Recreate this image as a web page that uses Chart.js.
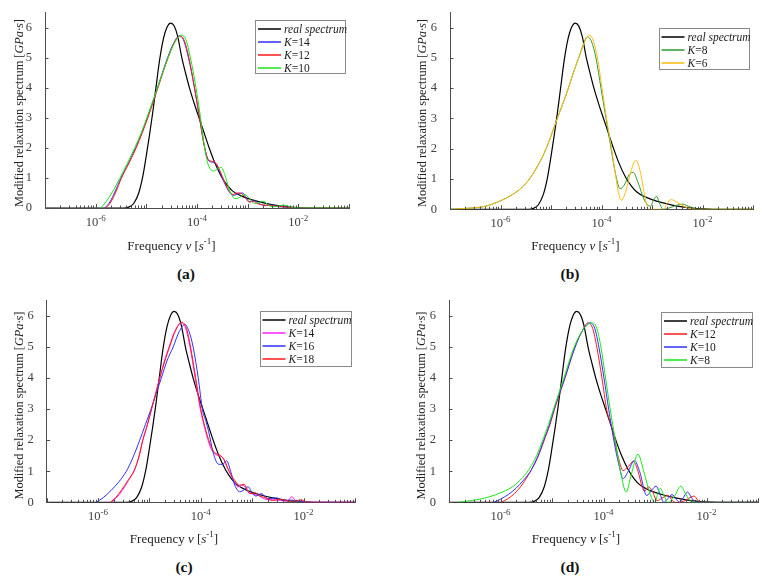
<!DOCTYPE html>
<html>
<head>
<meta charset="utf-8">
<script src="https://cdn.jsdelivr.net/npm/chart.js@4.4.1/dist/chart.umd.min.js"></script>
<style>
  body { margin: 0; background: #fff; }
  #wrap { position: relative; width: 762px; height: 579px; }
  .panel { position: absolute; width: 381px; height: 262px; }
  .cap { position: absolute; font: bold 15.5px "Liberation Serif", serif; color: #111; transform: translate(-50%, -50%); }
</style>
</head>
<body>
<div id="wrap">
  <div class="panel" style="left:0;top:0"><canvas id="chartA"></canvas></div>
  <div class="panel" style="left:381px;top:0"><canvas id="chartB"></canvas></div>
  <div class="panel" style="left:0;top:288px"><canvas id="chartC"></canvas></div>
  <div class="panel" style="left:381px;top:288px"><canvas id="chartD"></canvas></div>
  <div class="cap" style="left:186px;top:274px">(a)</div>
  <div class="cap" style="left:570px;top:274px">(b)</div>
  <div class="cap" style="left:184px;top:567px">(c)</div>
  <div class="cap" style="left:570px;top:567px">(d)</div>
</div>
<script>
const FONT = '"Liberation Serif", "Times New Roman", serif';
const AXIS = '#4d4d4d';

// each point is [log10(frequency), spectrum value in GPa·s]
const realSpectrum = [[-7,0],[-5.45,0],[-5.35,0.03],[-5.25,0.15],[-5.15,0.5],[-5.07,1.05],[-5.0,1.75],[-4.94,2.4],[-4.88,3.1],[-4.81,4.0],[-4.74,4.9],[-4.66,5.65],[-4.59,6.02],[-4.52,6.15],[-4.45,6.05],[-4.38,5.7],[-4.30,5.0],[-4.22,4.45],[-4.15,4.0],[-4.05,3.45],[-3.96,3.0],[-3.86,2.5],[-3.77,2.05],[-3.66,1.55],[-3.52,1.05],[-3.40,0.75],[-3.30,0.57],[-3.15,0.42],[-3.0,0.32],[-2.80,0.22],[-2.60,0.14],[-2.40,0.08],[-2.20,0.04],[-2.0,0.015],[-1.8,0],[-1,0]];

// (a)
const aK14 = [[-5.82,0],[-5.72,0.2],[-5.63,0.5],[-5.50,1.0],[-5.35,1.5],[-5.21,2.0],[-5.09,2.5],[-4.98,3.0],[-4.78,4.0],[-4.58,5.0],[-4.47,5.45],[-4.35,5.72],[-4.27,5.6],[-4.17,5.0],[-4.05,4.0],[-3.95,3.0],[-3.86,2.1],[-3.78,1.6],[-3.70,1.52],[-3.62,1.45],[-3.55,1.2],[-3.45,0.8],[-3.36,0.53],[-3.28,0.42],[-3.18,0.48],[-3.10,0.5],[-3.02,0.32],[-2.96,0.2],[-2.87,0.24],[-2.78,0.15],[-2.65,0.08],[-2.53,0.1],[-2.42,0.05],[-2.25,0.03],[-2.1,0.02],[-1.97,0],[-1,0]];
const aK12 = [[-5.80,0],[-5.70,0.2],[-5.61,0.5],[-5.49,1.0],[-5.34,1.5],[-5.20,2.0],[-5.08,2.5],[-4.97,3.0],[-4.77,4.0],[-4.57,5.0],[-4.46,5.45],[-4.34,5.72],[-4.26,5.6],[-4.16,5.0],[-4.05,4.0],[-3.95,3.0],[-3.86,2.1],[-3.78,1.62],[-3.70,1.55],[-3.62,1.48],[-3.55,1.25],[-3.45,0.85],[-3.36,0.55],[-3.29,0.45],[-3.20,0.5],[-3.12,0.48],[-3.04,0.32],[-2.97,0.2],[-2.89,0.22],[-2.80,0.14],[-2.68,0.1],[-2.55,0.08],[-2.42,0.06],[-2.28,0.04],[-2.12,0.02],[-1.98,0],[-1,0]];
const aK10 = [[-5.90,0],[-5.80,0.2],[-5.68,0.5],[-5.52,1.0],[-5.37,1.5],[-5.23,2.0],[-5.10,2.5],[-4.99,3.0],[-4.78,4.0],[-4.57,5.0],[-4.44,5.5],[-4.30,5.75],[-4.22,5.6],[-4.13,5.0],[-4.02,4.0],[-3.93,3.0],[-3.85,2.0],[-3.79,1.5],[-3.73,1.28],[-3.67,1.23],[-3.59,1.3],[-3.52,1.35],[-3.45,1.1],[-3.38,0.7],[-3.32,0.45],[-3.25,0.31],[-3.16,0.35],[-3.06,0.45],[-2.98,0.35],[-2.90,0.18],[-2.83,0.15],[-2.75,0.2],[-2.68,0.22],[-2.60,0.1],[-2.50,0.04],[-2.40,0.06],[-2.30,0.1],[-2.20,0.06],[-2.08,0.01],[-2.0,0],[-1,0]];

// (b)
const bK8 = [[-6.96,0],[-6.6,0.04],[-6.3,0.1],[-6.0,0.28],[-5.8,0.45],[-5.64,0.63],[-5.45,0.95],[-5.30,1.33],[-5.15,1.8],[-5.04,2.24],[-4.94,2.7],[-4.84,3.16],[-4.74,3.6],[-4.64,4.08],[-4.54,4.6],[-4.44,5.05],[-4.36,5.45],[-4.28,5.7],[-4.20,5.55],[-4.11,5.0],[-4.01,4.0],[-3.91,3.0],[-3.81,2.0],[-3.72,1.15],[-3.63,0.68],[-3.55,0.8],[-3.45,1.15],[-3.37,1.22],[-3.28,0.9],[-3.15,0.3],[-3.03,0.1],[-2.97,0.3],[-2.91,0.43],[-2.85,0.2],[-2.78,0],[-2.65,0.05],[-2.50,0.14],[-2.40,0.17],[-2.28,0.1],[-2.15,0.02],[-2.1,0],[-1,0]];
const bK6 = [[-6.96,0],[-6.6,0.04],[-6.3,0.1],[-6.0,0.28],[-5.8,0.45],[-5.64,0.63],[-5.45,0.95],[-5.30,1.33],[-5.15,1.8],[-5.04,2.24],[-4.94,2.7],[-4.84,3.16],[-4.74,3.6],[-4.64,4.08],[-4.54,4.6],[-4.44,5.05],[-4.34,5.5],[-4.25,5.75],[-4.17,5.6],[-4.08,5.0],[-3.99,4.0],[-3.90,3.0],[-3.80,2.0],[-3.71,1.0],[-3.65,0.45],[-3.60,0.3],[-3.52,0.6],[-3.42,1.25],[-3.32,1.62],[-3.24,1.3],[-3.15,0.5],[-3.07,0],[-2.77,0],[-2.70,0.2],[-2.62,0.32],[-2.52,0.25],[-2.35,0.08],[-2.2,0.01],[-2.17,0],[-1,0]];

// (c)
const cK14 = [[-5.74,0],[-5.64,0.15],[-5.53,0.38],[-5.41,0.7],[-5.29,1.05],[-5.20,1.5],[-5.13,2.0],[-5.04,2.5],[-4.96,3.0],[-4.88,3.5],[-4.80,4.0],[-4.71,4.55],[-4.62,5.0],[-4.51,5.5],[-4.38,5.78],[-4.30,5.62],[-4.21,5.0],[-4.11,4.0],[-4.01,3.0],[-3.91,2.3],[-3.82,1.8],[-3.74,1.58],[-3.66,1.5],[-3.58,1.45],[-3.48,1.1],[-3.36,0.7],[-3.28,0.5],[-3.18,0.55],[-3.08,0.35],[-2.97,0.25],[-2.88,0.22],[-2.75,0.1],[-2.60,0.08],[-2.45,0.06],[-2.32,0.03],[-2.23,0.18],[-2.14,0.03],[-2.05,0.05],[-1.95,0],[-1,0]];
const cK16 = [[-6.04,0],[-5.9,0.15],[-5.75,0.38],[-5.60,0.65],[-5.45,1.0],[-5.32,1.45],[-5.19,2.0],[-5.08,2.5],[-4.97,3.0],[-4.87,3.5],[-4.77,4.0],[-4.66,4.55],[-4.54,5.0],[-4.42,5.5],[-4.31,5.73],[-4.23,5.5],[-4.15,5.0],[-4.05,4.0],[-3.97,3.0],[-3.90,2.6],[-3.85,2.29],[-3.76,1.6],[-3.66,1.23],[-3.58,1.22],[-3.50,1.34],[-3.42,1.0],[-3.34,0.55],[-3.24,0.34],[-3.16,0.4],[-3.08,0.5],[-3.00,0.3],[-2.93,0.2],[-2.82,0.28],[-2.70,0.12],[-2.52,0.14],[-2.40,0.06],[-2.25,0.07],[-2.10,0.03],[-1.95,0],[-1,0]];
const cK18 = [[-5.76,0],[-5.66,0.15],[-5.55,0.38],[-5.42,0.7],[-5.29,1.05],[-5.20,1.5],[-5.13,2.0],[-5.04,2.5],[-4.96,3.0],[-4.88,3.5],[-4.80,4.0],[-4.70,4.55],[-4.61,5.0],[-4.50,5.5],[-4.37,5.8],[-4.28,5.6],[-4.20,5.0],[-4.10,4.0],[-4.00,3.0],[-3.90,2.3],[-3.80,1.8],[-3.73,1.6],[-3.63,1.52],[-3.55,1.38],[-3.45,1.0],[-3.34,0.7],[-3.25,0.55],[-3.16,0.58],[-3.05,0.28],[-2.94,0.3],[-2.85,0.2],[-2.75,0.15],[-2.60,0.06],[-2.45,0.1],[-2.30,0.04],[-2.2,0.03],[-2.05,0.08],[-1.95,0.02],[-1.9,0],[-1,0]];

// (d)
const dK12 = [[-5.99,0],[-5.87,0.1],[-5.73,0.28],[-5.60,0.52],[-5.47,0.85],[-5.35,1.2],[-5.24,1.6],[-5.14,2.05],[-5.04,2.5],[-4.95,3.0],[-4.75,4.0],[-4.56,5.0],[-4.42,5.5],[-4.30,5.78],[-4.21,5.6],[-4.13,5.0],[-4.03,4.0],[-3.94,3.0],[-3.82,2.29],[-3.72,1.5],[-3.62,1.02],[-3.52,1.15],[-3.42,1.32],[-3.33,1.0],[-3.25,0.5],[-3.20,0.35],[-3.13,0.5],[-3.05,0.35],[-2.96,0.05],[-2.85,0.15],[-2.75,0.22],[-2.66,0.05],[-2.60,0],[-2.45,0.03],[-2.32,0.15],[-2.24,0.2],[-2.16,0.05],[-2.12,0],[-1,0]];
const dK10 = [[-6.13,0],[-6.0,0.1],[-5.85,0.25],[-5.70,0.45],[-5.55,0.72],[-5.40,1.05],[-5.27,1.5],[-5.16,2.0],[-5.05,2.5],[-4.96,3.0],[-4.75,4.0],[-4.55,5.0],[-4.40,5.55],[-4.26,5.78],[-4.17,5.6],[-4.09,5.0],[-3.99,4.0],[-3.90,3.0],[-3.80,2.0],[-3.70,1.2],[-3.62,0.76],[-3.52,1.0],[-3.40,1.35],[-3.30,1.0],[-3.16,0.22],[-3.06,0.4],[-2.98,0.52],[-2.90,0.25],[-2.83,0],[-2.75,0.12],[-2.67,0.25],[-2.58,0.08],[-2.52,0],[-2.45,0.15],[-2.37,0.33],[-2.29,0.15],[-2.21,0],[-1,0]];
const dK8 = [[-6.82,0],[-6.55,0.06],[-6.25,0.16],[-5.95,0.34],[-5.75,0.52],[-5.57,0.8],[-5.43,1.1],[-5.30,1.5],[-5.18,2.0],[-5.07,2.5],[-4.97,3.0],[-4.77,4.0],[-4.57,5.0],[-4.40,5.55],[-4.22,5.78],[-4.13,5.6],[-4.05,5.0],[-3.96,4.0],[-3.87,3.0],[-3.77,2.0],[-3.67,1.0],[-3.56,0.33],[-3.46,0.9],[-3.33,1.55],[-3.22,1.0],[-3.08,0.2],[-3.00,0],[-2.95,0.25],[-2.90,0.45],[-2.82,0.2],[-2.75,0],[-2.62,0.2],[-2.50,0.52],[-2.40,0.25],[-2.30,0.02],[-2.27,0],[-1,0]];

const xMajorTicks = [-6, -4, -2];   // exponents of the labelled decades
const yTicks = [0, 1, 2, 3, 4, 5, 6];

const panels = [
  { id: 'chartA', series: [realSpectrum, aK14, aK12, aK10], labels: ['real spectrum', 'K=14', 'K=12', 'K=10'],
    colors: ['#000000', '#3030ff', '#ff1a1a', '#19e619'],
    area: { left: 45, top: 7, right: 32, bottom: 54 }, legend: { x: 255, y: 19.5, w: 90, h: 53 },
    xTitle: { x: 171.5, y: 245 }, yTitle: { x: 18, y: 113 } },
  { id: 'chartB', series: [realSpectrum, bK8, bK6], labels: ['real spectrum', 'K=8', 'K=6'],
    colors: ['#000000', '#2e9a2e', '#ffbb11'],
    area: { left: 69, top: 8.5, right: 9, bottom: 52.7 }, legend: { x: 277.5, y: 27.5, w: 90, h: 41 },
    xTitle: { x: 194.5, y: 245 }, yTitle: { x: 40.7, y: 113 } },
  { id: 'chartC', series: [realSpectrum, cK14, cK16, cK18], labels: ['real spectrum', 'K=14', 'K=16', 'K=18'],
    colors: ['#000000', '#ff22ff', '#3030ff', '#ff1a1a'],
    area: { left: 46.7, top: 9, right: 26, bottom: 47.7 }, legend: { x: 259.5, y: 23, w: 90.5, h: 54.5 },
    xTitle: { x: 174, y: 250.3 }, yTitle: { x: 18.3, y: 117.5 } },
  { id: 'chartD', series: [realSpectrum, dK12, dK10, dK8], labels: ['real spectrum', 'K=12', 'K=10', 'K=8'],
    colors: ['#000000', '#ff1a1a', '#3030ff', '#19e619'],
    area: { left: 68, top: 9, right: 4, bottom: 47.7 }, legend: { x: 280, y: 24.3, w: 90.5, h: 54.5 },
    xTitle: { x: 195, y: 250.3 }, yTitle: { x: 39, y: 117.5 } }
];

function toPoints(arr) {
  return arr.map(p => ({ x: Math.pow(10, p[0]), y: p[1] }));
}

function fontFor(style, size) {
  if (style === 'i') return 'italic ' + size + 'px ' + FONT;
  if (style === 'sup') return Math.round(size * 0.7) + 'px ' + FONT;
  return size + 'px ' + FONT;
}

// draws text runs (normal / italic / superscript) centred on cx
function drawRuns(ctx, runs, cx, baseline, size) {
  let total = 0;
  runs.forEach(r => { ctx.font = fontFor(r[1], size); total += ctx.measureText(r[0]).width; });
  let x = cx - total / 2;
  runs.forEach(r => {
    ctx.font = fontFor(r[1], size);
    ctx.fillText(r[0], x, r[1] === 'sup' ? baseline - size * 0.42 : baseline);
    x += ctx.measureText(r[0]).width;
  });
}

const paperDecor = {
  id: 'paperDecor',
  afterDatasetsDraw(chart, args, opts) {
    const ctx = chart.ctx;
    const a = chart.chartArea;
    const xs = chart.scales.x, ys = chart.scales.y;
    ctx.save();

    // inward tick marks
    ctx.strokeStyle = AXIS;
    ctx.lineWidth = 1;
    ctx.beginPath();
    xs.ticks.forEach(t => {
      const px = Math.round(xs.getPixelForValue(t.value)) + 0.5;
      const len = t.major ? 4 : 2.5;
      ctx.moveTo(px, a.bottom);
      ctx.lineTo(px, a.bottom - len);
    });
    ys.ticks.forEach(t => {
      const py = Math.round(ys.getPixelForValue(t.value)) + 0.5;
      ctx.moveTo(a.left, py);
      ctx.lineTo(a.left + 3.5, py);
    });
    ctx.stroke();

    // x tick labels 10^n
    ctx.fillStyle = '#404040';
    ctx.textAlign = 'left';
    ctx.textBaseline = 'alphabetic';
    xMajorTicks.forEach(e => {
      const px = xs.getPixelForValue(Math.pow(10, e));
      drawRuns(ctx, [['10', 'n'], ['-' + Math.abs(e), 'sup']], px, a.bottom + 18, 12.5);
    });

    // axis titles
    ctx.fillStyle = '#222';
    drawRuns(ctx, [['Frequency ', 'n'], ['v', 'i'], [' [', 'n'], ['s', 'i'], ['-1', 'sup'], [']', 'n']],
      opts.xTitle.x, opts.xTitle.y + 4.5, 13);
    ctx.save();
    ctx.translate(opts.yTitle.x, opts.yTitle.y);
    ctx.rotate(-Math.PI / 2);
    drawRuns(ctx, [['Modified relaxation spectrum [', 'n'], ['GPa\u00b7s', 'i'], [']', 'n']], 0, 4.5, 12.3);
    ctx.restore();

    // legend box
    const L = opts.legend;
    ctx.fillStyle = '#fff';
    ctx.fillRect(L.x, L.y, L.w, L.h);
    ctx.strokeStyle = '#8a8a8a';
    ctx.lineWidth = 1;
    ctx.strokeRect(Math.round(L.x) + 0.5, Math.round(L.y) + 0.5, Math.round(L.w), Math.round(L.h));
    chart.data.datasets.forEach((ds, i) => {
      const ry = Math.round(L.y + 9 + i * 13);
      ctx.fillStyle = ds.borderColor;
      ctx.fillRect(L.x + 3, ry - 0.75, 23, 1.5);
      ctx.fillStyle = '#1a1a1a';
      let tx = L.x + 29;
      const parts = ds.label.startsWith('K=') ? [['K', 'i'], [ds.label.slice(1), 'n']] : [[ds.label, 'i']];
      parts.forEach(p => {
        ctx.font = fontFor(p[1], 11.5);
        ctx.fillText(p[0], tx, ry + 4);
        tx += ctx.measureText(p[0]).width;
      });
    });
    ctx.restore();
  }
};

panels.forEach(p => {
  const n = p.series.length;
  const datasets = p.series.map((s, i) => ({
    label: p.labels[i],
    data: toPoints(s),
    borderColor: p.colors[i],
    borderWidth: i === 0 ? 1.2 : 1,
    pointRadius: 0,
    fill: false,
    cubicInterpolationMode: 'monotone',
    order: n - i
  }));

  new Chart(document.getElementById(p.id), {
    type: 'line',
    data: { datasets: datasets },
    plugins: [paperDecor],
    options: {
      responsive: true,
      maintainAspectRatio: false,
      animation: false,
      layout: { padding: { left: 0, top: p.area.top, right: p.area.right, bottom: 0 } },
      plugins: {
        legend: { display: false },
        tooltip: { enabled: false },
        paperDecor: { legend: p.legend, xTitle: p.xTitle, yTitle: p.yTitle }
      },
      scales: {
        x: {
          type: 'logarithmic',
          min: 1e-7,
          max: 1e-1,
          grid: { display: false },
          border: { display: true, color: AXIS, width: 1 },
          ticks: { display: false },
          afterBuildTicks: scale => {
            const t = [];
            for (let e = -7; e < -1; e++) {
              for (let m = 1; m < 10; m++) t.push({ value: m * Math.pow(10, e), major: m === 1 });
            }
            t.push({ value: 1e-1, major: true });
            scale.ticks = t;
          },
          afterFit: scale => { scale.height = p.area.bottom; }
        },
        y: {
          type: 'linear',
          min: 0,
          max: 6.5,
          grid: { display: false },
          border: { display: true, color: AXIS, width: 1 },
          ticks: { color: '#404040', padding: 5, font: { family: FONT, size: 12.5 } },
          afterBuildTicks: scale => { scale.ticks = yTicks.map(v => ({ value: v })); },
          afterFit: scale => { scale.width = p.area.left; }
        }
      }
    }
  });
});
</script>
</body>
</html>
